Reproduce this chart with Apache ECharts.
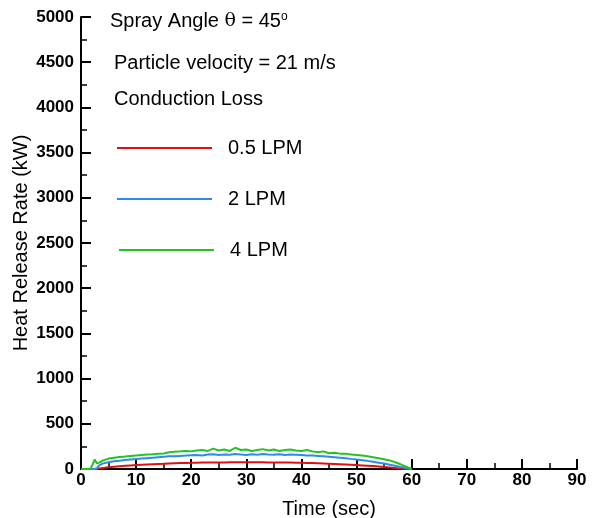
<!DOCTYPE html>
<html>
<head>
<meta charset="utf-8">
<script src="https://cdn.jsdelivr.net/npm/echarts@6/dist/echarts.min.js"></script>
<style>html,body{margin:0;padding:0;background:#fff}#c{width:592px;height:518px}</style>
</head>
<body>
<div id="c"></div>
<script>
const timeSec = [0,1,1.7,2.1,2.5,2.9,3.3,4,5,6,7,8,9,10,11,12,13,14,15,16,17,18,19,20,21,22,23,24,25,26,27,28,29,30,31,32,33,34,35,36,37,38,39,40,41,42,43,44,45,46,47,48,49,50,51,52,53,54,55,56,57,58,59,60];
const lpm05 = [0,0,0,0,0,0,5,12,20,26,31,35,39,43,47,50,53,56,58,61,63,65,67,68,70,71,72,72,73,73,74,74,74,74,74,74,74,73,73,72,72,71,70,69,67,65,63,61,59,56,53,50,47,44,40,36,32,27,22,17,11,5,1,0];
const lpm2 = [0,0,0,0,0,10,40,62,75,85,92,100,105,110,115,120,125,130,135,140,142,145,148,152,155,150,160,162,155,160,158,165,160,155,162,158,165,160,158,162,155,160,158,155,150,148,145,140,135,130,125,120,112,105,98,90,80,70,60,48,35,22,10,0];
const lpm4 = [0,0,0,50,105,62,70,95,115,125,132,138,145,150,155,160,162,168,172,185,190,195,200,195,205,210,200,225,205,215,200,235,210,215,200,210,220,205,215,200,210,215,205,200,210,195,185,195,175,180,170,170,160,155,150,140,130,120,108,95,75,52,25,0];
const seriesNames = ['0.5 LPM','2 LPM','4 LPM'];
const seriesColors = ['#dd1111','#2a8cf0','#22c422'];

const FONT = '"Liberation Sans", Arial, Helvetica, sans-serif';
const pairs = arr => timeSec.map((t,i)=>[t,arr[i]]);
const chart = echarts.init(document.getElementById('c'));
const legendTops = [138,189,240];
const legendLefts = [117,117,119];
chart.setOption({
  animation:false,
  grid:{left:81,right:15,top:17,bottom:49,containLabel:false,outerBoundsMode:'none'},
  xAxis:{type:'value',min:0,max:90,interval:10,
    name:'Time (sec)',nameLocation:'middle',nameGap:30,
    nameTextStyle:{fontFamily:FONT,fontSize:20,color:'#000'},
    axisLine:{lineStyle:{color:'#000',width:2}},
    axisTick:{inside:true,length:10,lineStyle:{color:'#000',width:2}},
    minorTick:{show:true,splitNumber:2,length:6,lineStyle:{color:'#000',width:1.5}},
    axisLabel:{fontFamily:FONT,fontSize:17,fontWeight:'bold',color:'#000',margin:3,formatter:v=>String(v)},
    splitLine:{show:false}},
  yAxis:{type:'value',min:0,max:5000,interval:500,
    name:'Heat Release Rate (kW)',nameLocation:'middle',nameGap:50,nameMoveOverlap:false,
    nameTextStyle:{fontFamily:FONT,fontSize:20,color:'#000'},
    axisLine:{show:true,lineStyle:{color:'#000',width:2}},
    axisTick:{show:true,inside:true,length:10,lineStyle:{color:'#000',width:2}},
    minorTick:{show:true,splitNumber:2,length:6,lineStyle:{color:'#000',width:1.5}},
    axisLabel:{fontFamily:FONT,fontSize:17,fontWeight:'bold',color:'#000',margin:7,formatter:v=>String(v)},
    splitLine:{show:false}},
  legend: seriesNames.map((n,i)=>({data:[n],left:legendLefts[i],top:legendTops[i],orient:'vertical',
    icon:'rect',itemWidth:95,itemHeight:2,padding:0,
    textStyle:{fontFamily:FONT,fontSize:20,color:'#000',padding:[0,0,0,11]}})),
  series: [lpm05,lpm2,lpm4].map((d,i)=>({name:seriesNames[i],type:'line',data:pairs(d),
    symbol:'none',lineStyle:{width:2,color:seriesColors[i]},itemStyle:{color:seriesColors[i]}})),
  graphic:[
    {type:'text',left:110,top:11,style:{text:'Spray Angle {t|θ} = 45{s|o}',font:'20px '+FONT,fill:'#000',
      rich:{t:{fontFamily:'"DejaVu Serif", serif',fontSize:19,fill:'#000'},s:{fontSize:12,verticalAlign:'top',padding:[0,0,9,0],fill:'#000'}}}},
    {type:'text',left:114,top:53,style:{text:'Particle velocity = 21 m/s',font:'20px '+FONT,fill:'#000'}},
    {type:'text',left:114,top:89,style:{text:'Conduction Loss',font:'20px '+FONT,fill:'#000'}}
  ]
});
</script>
</body>
</html>
